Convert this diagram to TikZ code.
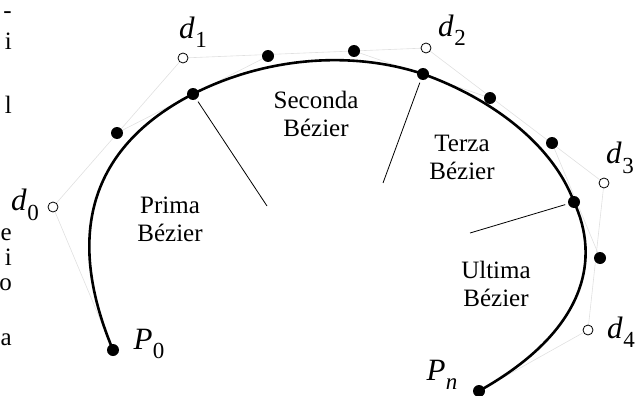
\documentclass[tikz,border=0pt]{standalone}
\usepackage{fontspec}
\setmainfont{Liberation Serif}
\newcommand\mlab[2]{\textit{#1}\kern0.5pt\raisebox{-0.3em}{\fontsize{23}{23}\selectfont #2}}
\begin{document}
\begin{tikzpicture}[x=1pt,y=-1pt,
  ctrlpt/.style={circle, fill=black, inner sep=0pt, minimum size=12pt},
  deboor/.style={circle, draw=black, fill=white, inner sep=0pt, minimum size=10pt, line width=0.8pt},
  poly/.style={draw=black!12, line width=0.6pt},
  curvestyle/.style={line width=2.6pt},
  lead/.style={line width=0.8pt},
  lbl/.style={font=\fontsize{25}{28}\selectfont, align=center, inner sep=0pt},
  mlbl/.style={font=\fontsize{31}{31}\selectfont, inner sep=0pt},
  frag/.style={font=\fontsize{25}{25}\selectfont, inner sep=0pt, anchor=base east}
]
\useasboundingbox (0,0) rectangle (637,396);
% positions
\coordinate (cP0) at (113,350);
\coordinate (cd0) at (53,207);
\coordinate (cA) at (117,133);
\coordinate (cd1) at (183,58);
\coordinate (cJ1) at (193,94);
\coordinate (cB) at (268,56);
\coordinate (cC) at (354,51);
\coordinate (cd2) at (426,48);
\coordinate (cJ2) at (423,74);
\coordinate (cD) at (490,98);
\coordinate (cE) at (552,143);
\coordinate (cd3) at (604,183);
\coordinate (cJ3) at (574,202);
\coordinate (cF) at (600,258);
\coordinate (cd4) at (588,330);
\coordinate (cPn) at (479,391);
\coordinate (L1) at (267,206);
\coordinate (L2) at (383,183);
\coordinate (L3) at (470,233);
% control polygon
\draw[poly] (cP0) -- (cd0) -- (cd1) -- (cd2) -- (cd3) -- (cd4) -- (cPn);
\draw[poly] (cA) -- (cB);
\draw[poly] (cC) -- (cD);
\draw[poly] (cE) -- (cF);
% curve
\draw[curvestyle] (cP0) .. controls (cd0) and (cA) .. (cJ1)
  .. controls (cB) and (cC) .. (cJ2)
  .. controls (cD) and (cE) .. (cJ3)
  .. controls (cF) and (cd4) .. (cPn);
% points
\node[ctrlpt] (P0) at (cP0) {};
\node[ctrlpt] (A) at (cA) {};
\node[ctrlpt] (J1) at (cJ1) {};
\node[ctrlpt] (B) at (cB) {};
\node[ctrlpt] (C) at (cC) {};
\node[ctrlpt] (J2) at (cJ2) {};
\node[ctrlpt] (D) at (cD) {};
\node[ctrlpt] (E) at (cE) {};
\node[ctrlpt] (J3) at (cJ3) {};
\node[ctrlpt] (F) at (cF) {};
\node[ctrlpt] (Pn) at (cPn) {};
\node[deboor] (d0) at (cd0) {};
\node[deboor] (d1) at (cd1) {};
\node[deboor] (d2) at (cd2) {};
\node[deboor] (d3) at (cd3) {};
\node[deboor] (d4) at (cd4) {};
% leaders
\draw[lead, shorten <=3pt] (J1) -- (L1);
\draw[lead, shorten <=3pt] (J2) -- (L2);
\draw[lead, shorten <=3pt] (J3) -- (L3);
% labels
\node[mlbl] (ld0) at (25,205) {\mlab{d}{0}};
\node[mlbl] (ld1) at (193,32) {\mlab{d}{1}};
\node[mlbl] (ld2) at (452,30) {\mlab{d}{2}};
\node[mlbl] (ld3) at (620,158) {\mlab{d}{3}};
\node[mlbl] (ld4) at (621,332) {\mlab{d}{4}};
\node[mlbl] (lP0) at (149,344) {\mlab{P}{0}};
\node[mlbl] (lPn) at (442,375) {\mlab{P}{\textit{n}}};
\node[lbl] (t1) at (170,219) {Prima\\Bézier};
\node[lbl] (t2) at (316,114) {Seconda\\Bézier};
\node[lbl] (t3) at (462,157) {Terza\\Bézier};
\node[lbl] (t4) at (496,284) {Ultima\\Bézier};
% page text at the left edge
\node[frag] (f1) at (12,19) {-};
\node[frag] (f2) at (12,50) {i};
\node[frag] (f3) at (12,113) {l};
\node[frag] (f4) at (12,240) {e};
\node[frag] (f5) at (12,265) {i};
\node[frag] (f6) at (12,290) {o};
\node[frag] (f7) at (12,345) {a};
\end{tikzpicture}
\end{document}
